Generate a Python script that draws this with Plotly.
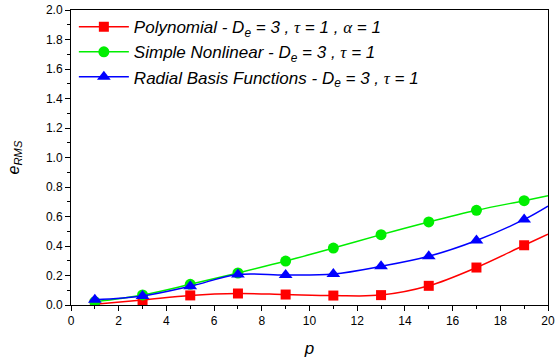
import plotly.graph_objects as go

p = [1, 3, 5, 7, 9, 11, 13, 15, 17, 19, 20]
poly = [0.005, 0.034, 0.065, 0.078, 0.071, 0.064, 0.067, 0.13, 0.254, 0.405, 0.48]
simple = [0.022, 0.068, 0.14, 0.217, 0.298, 0.386, 0.477, 0.563, 0.642, 0.707, 0.74]
rbf = [0.036, 0.061, 0.127, 0.207, 0.203, 0.21, 0.262, 0.33, 0.437, 0.58, 0.671]

G = "<span style='font-family:Liberation Serif'>%s</span>"
names = [
    "Polynomial - D<sub>e</sub> = 3 , " + G % "τ" + " = 1 , " + G % "α" + " = 1",
    "Simple Nonlinear - D<sub>e</sub> = 3 , " + G % "τ" + " = 1",
    "Radial Basis Functions - D<sub>e</sub> = 3 , " + G % "τ" + " = 1",
]
colors = ["#ff0000", "#00ee00", "#0000ff"]
symbols = ["square", "circle", "triangle-up"]
sizes = [10, 11, 12]

fig = go.Figure()
for ys, nm, c, s, sz in zip([poly, simple, rbf], names, colors, symbols, sizes):
    mcolors = [c] * (len(p) - 1) + ["rgba(0,0,0,0)"]
    fig.add_trace(go.Scatter(
        x=p, y=ys, name=nm, mode="lines+markers",
        line=dict(color=c, width=1.5, shape="spline", smoothing=1),
        marker=dict(symbol=s, size=sz, color=mcolors, line=dict(width=0)),
    ))

fig.update_layout(
    width=555, height=362,
    margin=dict(l=71, r=7, t=10, b=57, autoexpand=False),
    paper_bgcolor="white", plot_bgcolor="white",
    font=dict(family="Liberation Sans, Arial, sans-serif", size=12, color="black"),
    showlegend=True,
    legend=dict(
        x=0.006, y=1.003, xanchor="left", yanchor="top",
        bgcolor="rgba(0,0,0,0)", borderwidth=0,
        font=dict(size=17, style="italic"),
        itemwidth=50,
        tracegroupgap=0,
    ),
    xaxis=dict(
        range=[0, 20], tick0=0, dtick=2, automargin=False,
        ticks="outside", ticklen=5, tickwidth=1, tickcolor="black",
        minor=dict(dtick=1, ticks="outside", ticklen=3, tickcolor="black"),
        showline=True, linecolor="black", linewidth=1, mirror=True,
        showgrid=False, zeroline=False,
        tickfont=dict(size=12),
        title=dict(text="p", font=dict(size=17, style="italic"), standoff=14),
    ),
    yaxis=dict(
        range=[0, 2.0], tick0=0, dtick=0.2, tickformat=".1f", automargin=False,
        ticks="outside", ticklen=5, tickwidth=1, tickcolor="black",
        minor=dict(dtick=0.1, ticks="outside", ticklen=3, tickcolor="black"),
        showline=True, linecolor="black", linewidth=1, mirror=True,
        showgrid=False, zeroline=False,
        tickfont=dict(size=12),
        title=dict(text="e<sub>RMS</sub>", font=dict(size=16, style="italic"), standoff=22),
    ),
)

fig.write_html("out.html")
